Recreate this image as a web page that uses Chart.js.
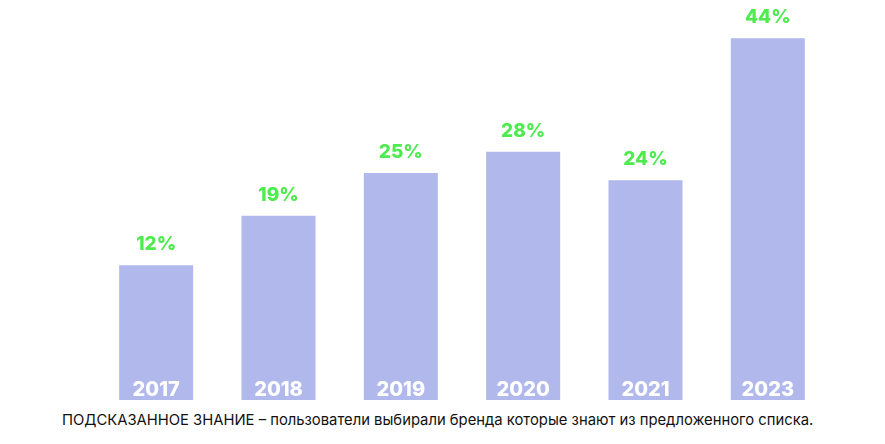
<!DOCTYPE html>
<html><head><meta charset="utf-8">
<script src="https://cdn.jsdelivr.net/npm/chart.js@4"></script>
<style>html,body{margin:0;padding:0;background:#fff;width:885px;height:444px;overflow:hidden}
#w{position:absolute;left:0;top:0;width:885px;height:410px}
#f{position:absolute;left:62px;white-space:nowrap;top:411px;font:14.8px Inter,"Noto Sans",sans-serif;color:#111}</style>
</head><body>
<div id="w"><canvas id="c"></canvas></div>
<div id="f">ПОДСКАЗАННОЕ ЗНАНИЕ – пользователи выбирали бренда которые знают из предложенного списка.</div>
<script>
const categories=["2017","2018","2019","2020","2021","2023"];
const values=[12,19,25,28,24,44];
const axisMin=-7;
const labelPlugin={id:'lbl',afterDatasetsDraw(ch){
 const ctx=ch.ctx;const meta=ch.getDatasetMeta(0);
 ctx.save();ctx.textAlign='center';
 meta.data.forEach((b,i)=>{
  ctx.fillStyle='#4deb4d';ctx.font='800 19px Inter, sans-serif';ctx.textBaseline='alphabetic';
  ctx.fillText(values[i]+'%',b.x,b.y-15);
  ctx.fillStyle='#ffffff';ctx.font='800 20px Inter, sans-serif';
  ctx.fillText(categories[i],b.x,b.base-4);
 });ctx.restore();}};
new Chart(document.getElementById('c'),{type:'bar',
 data:{labels:categories,datasets:[{data:values.map(v=>[axisMin,v]),backgroundColor:'#b1b8eb',barPercentage:0.605,categoryPercentage:1}]},
 options:{responsive:true,maintainAspectRatio:false,animation:false,
  layout:{padding:{left:95,right:56,top:10,bottom:10}},
  plugins:{legend:{display:false},tooltip:{enabled:false}},
  scales:{x:{display:false},y:{display:false,min:axisMin,max:48}}},
 plugins:[labelPlugin]});
</script></body></html>
